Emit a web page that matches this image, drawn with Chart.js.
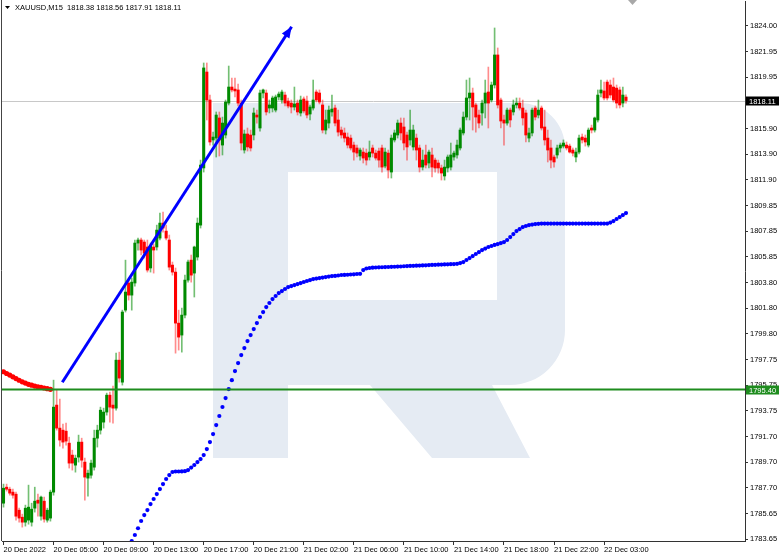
<!DOCTYPE html>
<html><head><meta charset="utf-8">
<script src="https://cdn.jsdelivr.net/npm/chart.js@4"></script>
<style>html,body{margin:0;padding:0;background:#fff;}#wrap{width:782px;height:559px;position:relative;}canvas{display:block;}</style>
</head><body><div id="wrap"><canvas id="c" width="782" height="559" style="width:782px;height:559px"></canvas></div>
<script>
// ---------------- data ----------------
const symbolTitle = 'XAUUSD,M15';
const headerValues = ['1818.38', '1818.56', '1817.91', '1818.11'];
const timeLabels = ['20 Dec 2022','20 Dec 05:00','20 Dec 09:00','20 Dec 13:00','20 Dec 17:00','20 Dec 21:00','21 Dec 02:00','21 Dec 06:00','21 Dec 10:00','21 Dec 14:00','21 Dec 18:00','21 Dec 22:00','22 Dec 03:00'];
const timeLabelBars = [0,16,32,48,64,80,96,112,128,144,160,176,192];
const priceTickLabels = ['1783.65','1785.65','1787.70','1789.70','1791.70','1793.75','1795.75','1797.75','1799.80','1801.80','1803.80','1805.85','1807.85','1809.85','1811.90','1813.90','1815.90','1817.90','1819.95','1821.95','1824.00'];

const opens = [1786.47,1787.73,1787.57,1787.34,1787.18,1785.92,1785.37,1784.98,1785.14,1784.98,
1786.08,1786.71,1785.45,1786.63,1785.14,1785.30,1787.34,1794.18,1792.37,1792.21,
1792.13,1791.19,1790.25,1789.46,1790.09,1791.27,1789.70,1788.44,1788.67,1789.30,
1791.58,1792.21,1792.84,1793.63,1794.96,1794.18,1793.94,1797.71,1795.98,1801.64,
1803.77,1802.82,1803.77,1806.91,1807.15,1806.99,1806.60,1804.95,1806.60,1806.60,
1807.30,1808.48,1807.85,1807.15,1805.18,1804.63,1800.62,1799.68,1801.25,1804.00,
1805.57,1804.55,1805.81,1808.32,1812.81,1820.35,1818.15,1815.01,1815.16,1816.74,
1814.61,1815.40,1817.91,1819.17,1819.01,1818.94,1817.91,1814.22,1815.48,1815.40,
1815.40,1816.97,1815.95,1818.70,1818.70,1817.52,1817.52,1817.36,1818.39,1818.15,
1818.54,1818.07,1817.91,1817.60,1817.91,1817.13,1818.23,1818.07,1817.05,1817.52,
1818.78,1818.70,1817.76,1815.79,1816.34,1817.21,1817.52,1816.58,1815.79,1815.56,
1815.24,1815.16,1814.61,1814.38,1813.75,1814.06,1813.98,1813.67,1814.38,1813.98,
1814.14,1814.38,1812.96,1813.98,1812.49,1815.01,1815.40,1816.34,1816.03,1815.40,
1815.01,1814.46,1815.16,1814.38,1812.88,1813.83,1813.20,1813.83,1813.43,1813.20,
1812.81,1812.18,1812.81,1812.88,1813.67,1813.83,1814.38,1815.56,1816.81,1818.31,
1818.70,1817.76,1816.97,1817.13,1817.91,1818.78,1818.15,1819.33,1821.69,1818.15,
1816.58,1816.34,1817.36,1817.21,1817.76,1817.91,1817.52,1817.13,1815.16,1815.56,
1817.52,1816.97,1817.52,1816.03,1815.16,1814.38,1813.67,1813.83,1814.38,1814.53,
1814.61,1814.53,1814.22,1813.67,1814.06,1815.24,1815.16,1814.61,1815.95,1815.79,
1816.58,1818.70,1818.86,1819.56,1819.33,1819.17,1819.09,1818.94,1817.91,1818.38];
const highs = [1787.97,1787.97,1787.73,1787.57,1787.34,1786.08,1785.61,1786.32,1787.89,1786.47,
1787.73,1787.18,1787.02,1786.95,1786.08,1787.50,1796.14,1795.36,1794.65,1792.68,
1792.76,1791.66,1790.64,1790.25,1791.82,1791.58,1790.01,1789.07,1789.85,1792.21,
1792.60,1794.02,1793.94,1795.12,1795.20,1795.67,1798.26,1798.34,1801.64,1805.57,
1804.16,1804.16,1807.15,1807.30,1807.30,1807.15,1807.15,1806.91,1806.83,1808.32,
1809.27,1809.35,1808.32,1807.54,1805.42,1804.95,1801.64,1801.80,1804.39,1805.57,
1805.97,1806.67,1808.88,1813.43,1821.06,1821.06,1818.54,1815.63,1817.21,1817.21,
1816.81,1818.15,1820.82,1819.88,1819.88,1819.41,1818.15,1815.79,1815.95,1815.79,
1817.52,1817.36,1818.94,1819.01,1818.94,1818.15,1818.46,1818.54,1818.78,1818.94,
1818.78,1818.31,1818.15,1819.17,1818.15,1818.46,1818.39,1818.46,1817.76,1819.72,
1818.94,1818.94,1818.15,1817.36,1817.68,1818.54,1817.76,1817.36,1816.03,1815.95,
1815.56,1815.40,1814.85,1814.61,1814.38,1814.38,1814.30,1814.93,1814.61,1814.22,
1814.38,1814.61,1814.38,1814.22,1815.40,1815.79,1816.58,1816.74,1816.74,1815.63,
1817.36,1816.18,1815.48,1814.61,1814.22,1814.61,1814.22,1814.38,1813.59,1813.43,
1813.04,1813.43,1813.83,1814.77,1814.14,1815.01,1815.95,1817.21,1819.72,1819.88,
1819.09,1817.91,1817.36,1818.15,1819.72,1820.74,1819.56,1823.81,1822.24,1818.31,
1816.97,1817.52,1817.52,1818.15,1818.31,1818.31,1818.15,1817.36,1815.95,1817.52,
1817.68,1818.15,1817.68,1817.36,1815.79,1815.01,1813.83,1814.61,1814.77,1815.01,
1814.85,1814.69,1814.38,1814.38,1815.40,1815.48,1815.40,1815.95,1816.18,1816.81,
1818.94,1819.72,1819.56,1819.72,1819.72,1819.88,1819.33,1819.17,1819.17,1818.56];
const lows = [1786.16,1787.42,1787.10,1786.87,1785.14,1784.98,1784.59,1784.67,1784.82,1784.67,
1785.77,1785.45,1785.14,1784.98,1784.98,1785.06,1787.10,1792.21,1790.95,1790.80,
1791.03,1789.23,1789.07,1788.91,1789.70,1789.30,1786.71,1787.02,1788.44,1789.07,
1790.88,1791.90,1792.37,1793.39,1792.84,1792.76,1793.78,1795.98,1795.75,1801.49,
1802.43,1801.64,1803.53,1806.36,1805.97,1805.73,1804.63,1804.63,1804.55,1806.36,
1807.15,1807.77,1807.15,1804.79,1804.39,1798.26,1798.50,1798.34,1801.02,1803.84,
1803.84,1802.67,1805.57,1808.09,1812.49,1816.58,1814.61,1814.61,1813.67,1813.75,
1813.83,1815.16,1817.76,1818.78,1818.39,1817.68,1814.22,1813.98,1814.14,1814.14,
1815.01,1816.34,1815.71,1818.31,1816.97,1817.13,1817.21,1817.21,1818.15,1817.91,
1817.68,1817.52,1817.13,1817.36,1816.97,1816.89,1817.13,1816.74,1816.58,1817.36,
1817.99,1817.84,1815.56,1815.48,1815.95,1816.89,1816.11,1815.32,1815.16,1814.85,
1814.38,1814.22,1813.43,1813.67,1813.43,1813.20,1813.04,1813.43,1813.67,1813.43,
1812.88,1812.49,1812.81,1812.02,1812.02,1814.85,1815.16,1815.01,1814.22,1813.43,
1814.61,1814.22,1813.43,1812.49,1812.65,1812.81,1812.81,1812.10,1812.49,1812.41,
1811.86,1811.86,1812.49,1812.65,1813.43,1813.59,1814.22,1815.40,1816.58,1816.58,
1815.79,1815.63,1815.95,1816.18,1816.74,1815.95,1817.99,1819.09,1817.52,1815.95,
1814.61,1816.18,1816.03,1816.97,1817.52,1817.36,1816.18,1814.85,1814.85,1815.32,
1816.58,1816.74,1815.79,1814.61,1813.28,1812.81,1812.88,1813.59,1814.06,1814.38,
1814.22,1813.98,1813.75,1813.28,1813.91,1814.77,1814.53,1814.46,1815.56,1815.63,
1816.42,1818.39,1818.15,1818.15,1818.31,1817.99,1817.52,1817.52,1817.60,1817.91];
const closes = [1787.65,1787.57,1787.26,1787.10,1785.45,1785.30,1784.98,1786.08,1786.16,1786.00,
1786.63,1786.47,1786.95,1785.22,1785.92,1787.34,1794.02,1792.37,1791.43,1791.27,
1791.35,1789.62,1789.62,1790.01,1791.27,1789.85,1788.52,1788.83,1789.62,1791.58,
1792.21,1793.78,1793.63,1794.96,1794.02,1793.94,1797.71,1796.30,1801.49,1803.06,
1802.82,1803.84,1806.91,1807.15,1806.36,1806.12,1804.79,1806.67,1806.36,1807.93,
1808.48,1808.09,1807.30,1805.02,1804.63,1800.62,1799.52,1801.25,1804.00,1805.42,
1804.39,1806.60,1808.48,1813.04,1820.67,1818.15,1814.85,1815.24,1816.97,1815.01,
1816.34,1817.99,1819.17,1818.94,1818.86,1817.91,1814.77,1815.48,1814.46,1814.38,
1817.13,1816.81,1818.70,1818.94,1817.21,1817.76,1818.31,1818.39,1818.62,1818.78,
1817.91,1817.68,1817.60,1817.84,1817.21,1818.15,1817.29,1816.97,1817.60,1818.15,
1818.15,1817.99,1815.79,1816.58,1817.36,1817.44,1816.34,1815.63,1815.40,1815.16,
1814.61,1814.38,1814.06,1813.98,1814.22,1813.59,1813.43,1814.06,1813.98,1813.59,
1813.43,1812.88,1814.06,1812.65,1815.16,1815.56,1816.34,1815.56,1814.77,1814.46,
1815.79,1815.79,1814.22,1812.88,1813.43,1813.04,1814.06,1812.88,1812.81,1812.81,
1812.41,1812.88,1813.67,1813.83,1813.98,1814.61,1815.79,1816.81,1818.31,1818.70,
1817.60,1816.81,1816.34,1817.91,1818.70,1817.91,1819.33,1821.69,1817.76,1816.50,
1816.34,1817.36,1816.58,1817.76,1817.91,1817.52,1816.74,1815.40,1815.56,1817.36,
1816.81,1817.36,1815.95,1815.01,1814.22,1813.43,1813.28,1814.38,1814.61,1814.77,
1814.38,1814.06,1813.98,1814.06,1815.16,1815.01,1814.85,1815.79,1815.79,1816.74,
1818.54,1818.94,1818.31,1818.31,1818.54,1818.15,1817.91,1817.76,1818.54,1818.11];

// blue moving average (dotted), starts at bar 41
const maBlueStart = 41;
const maBlue = [1783.50,1783.97,1784.50,1785.07,1785.54,1785.93,1786.40,1786.80,1787.19,
1787.58,1787.97,1788.37,1788.68,1788.92,1788.96,1788.96,1788.97,1788.99,1789.07,
1789.27,1789.47,1789.70,1789.94,1790.25,1790.72,1791.27,1791.90,1792.61,1793.32,
1794.03,1794.73,1795.44,1796.14,1796.85,1797.48,1798.11,1798.66,1799.21,1799.68,
1800.15,1800.62,1801.10,1801.49,1801.88,1802.20,1802.51,1802.75,1802.98,1803.14,
1803.30,1803.45,1803.53,1803.61,1803.69,1803.77,1803.85,1803.93,1804.00,1804.08,
1804.12,1804.16,1804.20,1804.24,1804.28,1804.32,1804.33,1804.36,1804.40,1804.41,
1804.42,1804.44,1804.45,1804.48,1804.49,1804.79,1804.91,1804.95,1804.98,1804.99,
1805.00,1805.01,1805.02,1805.03,1805.04,1805.05,1805.06,1805.07,1805.09,1805.10,
1805.11,1805.12,1805.13,1805.14,1805.15,1805.16,1805.18,1805.19,1805.20,1805.21,
1805.22,1805.23,1805.24,1805.25,1805.26,1805.28,1805.34,1805.42,1805.58,1805.73,
1805.89,1806.05,1806.20,1806.36,1806.48,1806.60,1806.68,1806.76,1806.83,1806.91,
1806.99,1807.15,1807.38,1807.62,1807.85,1808.01,1808.17,1808.25,1808.32,1808.36,
1808.40,1808.42,1808.44,1808.44,1808.44,1808.44,1808.44,1808.44,1808.44,1808.44,
1808.44,1808.44,1808.44,1808.44,1808.44,1808.44,1808.44,1808.44,1808.44,1808.44,
1808.44,1808.44,1808.44,1808.44,1808.52,1808.64,1808.80,1808.95,1809.11,1809.27];
// red moving average (thick dots), bars 0..15
const maRed = [1796.80,1796.66,1796.54,1796.40,1796.26,1796.13,1796.01,1795.91,1795.81,1795.74,1795.67,1795.62,1795.57,1795.52,1795.47,1795.42];
// trend arrow (bar index, price)
const trendBars = [18.8, 92.1];
const trendPrices = [1795.97, 1823.91];
const levelLine = 1795.40;
const bidLine = 1818.11;

// ---------------- build ----------------
const GREEN = '#008a00', RED = '#ff0000';
const bodyData = opens.map((o, i) => ({x: i, y: [o, closes[i]]}));
const wickData = lows.map((l, i) => ({x: i, y: [l, highs[i]]}));
const isUp = i => closes[i] >= opens[i];
const blueData = maBlue.map((v, k) => ({x: maBlueStart + k, y: v}));
const redData = maRed.map((v, k) => ({x: k, y: v}));
const trendData = trendBars.map((b, k) => ({x: b, y: trendPrices[k]}));
const FONT = {family: 'Liberation Sans, Arial, sans-serif', size: 7.5};

const decor = {
  id: 'decor',
  beforeDatasetsDraw(chart) {
    const {ctx, chartArea: a, scales: {x, y}} = chart;
    ctx.save();
    ctx.beginPath(); ctx.rect(a.left, a.top, a.right - a.left, a.bottom - a.top); ctx.clip();
    // watermark logo
    ctx.fillStyle = '#e5ebf3';
    ctx.beginPath();
    ctx.moveTo(213, 103); ctx.lineTo(520, 103);
    ctx.arcTo(565, 103, 565, 150, 45);
    ctx.lineTo(565, 330);
    ctx.arcTo(565, 385, 510, 385, 55);
    ctx.lineTo(492, 385); ctx.lineTo(530, 458); ctx.lineTo(432, 458); ctx.lineTo(370, 385);
    ctx.lineTo(288, 385); ctx.lineTo(288, 458); ctx.lineTo(213, 458); ctx.closePath();
    ctx.moveTo(288, 172); ctx.lineTo(497, 172); ctx.lineTo(497, 300); ctx.lineTo(288, 300); ctx.closePath();
    ctx.fill('evenodd');
    // bid line
    const yb = Math.round(y.getPixelForValue(bidLine)) + 0.5;
    ctx.strokeStyle = '#c8c8c8'; ctx.lineWidth = 1;
    ctx.beginPath(); ctx.moveTo(a.left, yb); ctx.lineTo(a.right, yb); ctx.stroke();
    ctx.restore();
  },
  afterDatasetsDraw(chart) {
    const {ctx, chartArea: a, scales: {x, y}} = chart;
    ctx.save();
    const yl = y.getPixelForValue(levelLine);
    ctx.strokeStyle = '#1e8c1e'; ctx.lineWidth = 2;
    ctx.beginPath(); ctx.moveTo(a.left, yl); ctx.lineTo(a.right, yl); ctx.stroke();
    const m = chart.getDatasetMeta(4);
    const p0 = m.data[0], p1 = m.data[1];
    const ang = Math.atan2(p1.y - p0.y, p1.x - p0.x);
    ctx.fillStyle = '#0000ff';
    ctx.beginPath();
    ctx.moveTo(p1.x, p1.y);
    ctx.lineTo(p1.x - 11 * Math.cos(ang) + 4.5 * Math.sin(ang), p1.y - 11 * Math.sin(ang) - 4.5 * Math.cos(ang));
    ctx.lineTo(p1.x - 11 * Math.cos(ang) - 4.5 * Math.sin(ang), p1.y - 11 * Math.sin(ang) + 4.5 * Math.cos(ang));
    ctx.closePath(); ctx.fill();
    ctx.restore();
  },
  afterDraw(chart) {
    const {ctx, chartArea: a, scales: {y}} = chart;
    ctx.save();
    ctx.strokeStyle = '#444'; ctx.lineWidth = 1;
    ctx.beginPath(); ctx.moveTo(1.5, 0); ctx.lineTo(1.5, a.bottom); ctx.stroke();
    ctx.fillStyle = '#000';
    ctx.beginPath(); ctx.moveTo(5, 6); ctx.lineTo(10, 6); ctx.lineTo(7.5, 9); ctx.closePath(); ctx.fill();
    ctx.font = '7.5px "Liberation Sans", Arial, sans-serif';
    ctx.textBaseline = 'middle'; ctx.textAlign = 'left';
    ctx.fillText(symbolTitle + '  ' + headerValues.join(' '), 15, 7.5);
    ctx.fillStyle = '#a8a8a8';
    ctx.beginPath(); ctx.moveTo(628, 0); ctx.lineTo(637, 0); ctx.lineTo(632.5, 5); ctx.closePath(); ctx.fill();
    const box = (val, bg) => {
      const yy = Math.round(y.getPixelForValue(val));
      ctx.fillStyle = bg;
      ctx.fillRect(a.right + 1, yy - 4.5, 33, 9);
      ctx.fillStyle = '#fff';
      ctx.fillText(val.toFixed(2), a.right + 4, yy + 0.5);
    };
    box(bidLine, '#000');
    box(levelLine, '#1e8c1e');
    ctx.restore();
  }
};

new Chart(document.getElementById('c'), {
  type: 'bar',
  data: {
    datasets: [
      {type: 'bar', data: wickData, grouped: false, barThickness: 1, minBarLength: 1, order: 5,
       backgroundColor: c => isUp(c.dataIndex) ? 'rgba(0,138,0,0.55)' : 'rgba(255,0,0,0.45)'},
      {type: 'bar', data: bodyData, grouped: false, barThickness: 2.4, minBarLength: 1, order: 4,
       backgroundColor: c => isUp(c.dataIndex) ? GREEN : RED},
      {type: 'line', data: blueData, showLine: false, pointRadius: 2.1, pointBorderWidth: 0,
       pointBackgroundColor: '#0000ff', order: 3},
      {type: 'line', data: redData, showLine: false, pointRadius: 2.6, pointBorderWidth: 0,
       pointBackgroundColor: '#ff0000', order: 2},
      {type: 'line', data: trendData, borderColor: '#0000ff', borderWidth: 3, pointRadius: 0, order: 1}
    ]
  },
  options: {
    responsive: false, animation: false, events: [],
    devicePixelRatio: 1,
    layout: {autoPadding: false, padding: {left: 2, top: 1, right: 0, bottom: 0}},
    plugins: {legend: {display: false}, tooltip: {enabled: false}},
    scales: {
      x: {
        type: 'linear', position: 'bottom', min: -0.48, max: 237.05, offset: false,
        grid: {display: true, drawOnChartArea: false, drawTicks: true, tickLength: 4, color: '#333', offset: false},
        border: {display: true, color: '#333'},
        afterBuildTicks: s => { s.ticks = timeLabelBars.map(v => ({value: v})); },
        afterFit: s => { s.height = 18; s.paddingLeft = 0; s.paddingRight = 0; },
        ticks: {autoSkip: false, maxRotation: 0, minRotation: 0, align: 'start', padding: 0, color: '#000', font: FONT,
                callback: v => timeLabels[timeLabelBars.indexOf(v)]}
      },
      y: {
        type: 'linear', position: 'right', min: 1783.50, max: 1825.93, beginAtZero: false,
        grid: {display: true, drawOnChartArea: false, drawTicks: true, tickLength: 3, color: '#333'},
        border: {display: true, color: '#333'},
        afterBuildTicks: s => { s.ticks = priceTickLabels.map(l => ({value: parseFloat(l)})); },
        afterFit: s => { s.width = 37; s.paddingTop = 0; s.paddingBottom = 0; },
        ticks: {padding: 2, color: '#000', font: FONT,
                callback: v => priceTickLabels.find(l => parseFloat(l) === v)}
      }
    }
  },
  plugins: [decor]
});
</script></body></html>
